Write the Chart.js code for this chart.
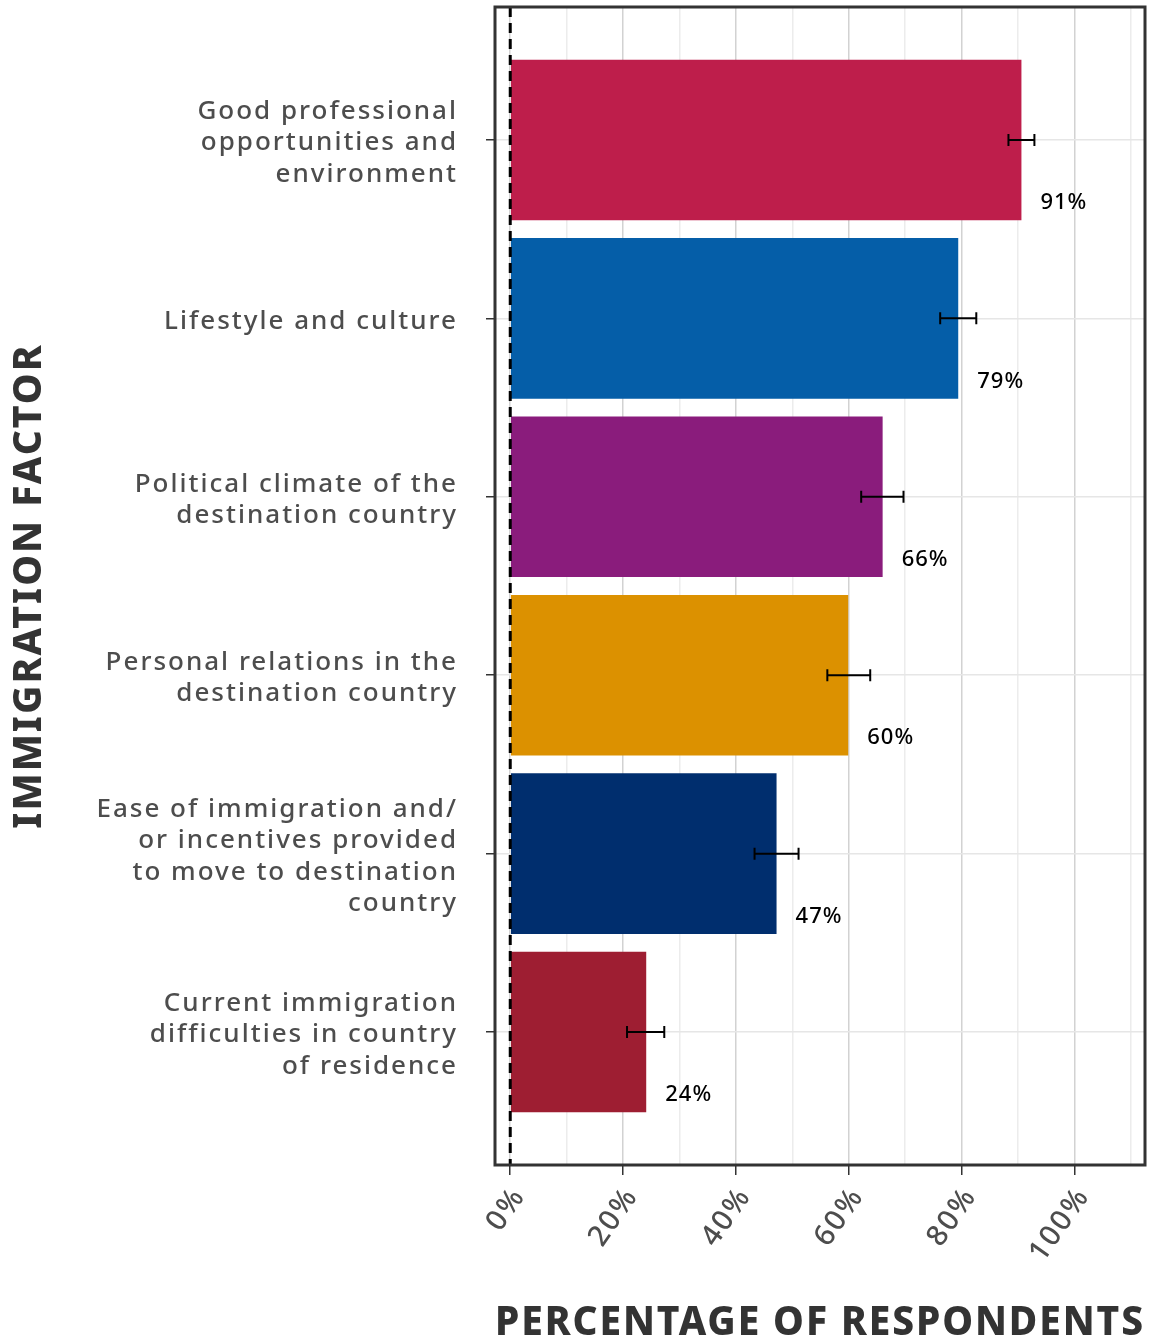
<!DOCTYPE html>
<html>
<head>
<meta charset="utf-8">
<script src="https://cdn.jsdelivr.net/npm/chart.js@4.4.0/dist/chart.umd.min.js"></script>
<style>
  html, body { margin: 0; padding: 0; background: #fff; }
  #wrap { width: 1157px; height: 1337px; }
</style>
</head>
<body>
<div id="wrap"><canvas id="chart"></canvas></div>
<script>
var factors = [
    ['Good professional', 'opportunities and', 'environment'],
    ['Lifestyle and culture'],
    ['Political climate of the', 'destination country'],
    ['Personal relations in the', 'destination country'],
    ['Ease of immigration and/', 'or incentives provided', 'to move to destination', 'country'],
    ['Current immigration', 'difficulties in country', 'of residence']
];
var percent = [90.6, 79.4, 66.0, 59.9, 47.2, 24.1];
var err_low = [88.3, 76.2, 62.2, 56.2, 43.3, 20.7];
var err_high = [92.9, 82.6, 69.7, 63.8, 51.1, 27.3];
var value_labels = ['91%', '79%', '66%', '60%', '47%', '24%'];
var bar_colors = ['#be1e4b', '#055ea8', '#8a1c7c', '#dc9100', '#002e6e', '#9e1e32'];

var FONT = "'Noto Sans', sans-serif";

// wider letter spacing to get closer to the original typeface
var spacing = {
    id: 'spacing',
    beforeDraw: function(chart) {
        chart.ctx.letterSpacing = '2px';
    }
};

// error bars, value labels, dashed zero line and the frame
var extras = {
    id: 'extras',
    afterDatasetsDraw: function(chart) {
        var ctx = chart.ctx;
        var xs = chart.scales.x, ys = chart.scales.y;
        var area = chart.chartArea;
        ctx.save();
        // dashed line at 0
        var x0 = xs.getPixelForValue(0);
        ctx.strokeStyle = '#000';
        ctx.lineWidth = 3;
        ctx.setLineDash([10, 6]);
        ctx.beginPath();
        ctx.moveTo(x0, area.top);
        ctx.lineTo(x0, area.bottom);
        ctx.stroke();
        ctx.setLineDash([]);

        ctx.lineWidth = 2;
        ctx.letterSpacing = '1px';
        ctx.font = '500 22px ' + FONT;
        ctx.textAlign = 'left';
        ctx.textBaseline = 'middle';
        ctx.fillStyle = '#000';
        for (var i = 0; i < percent.length; i++) {
            var yc = ys.getPixelForValue(i);
            var xl = xs.getPixelForValue(err_low[i]);
            var xh = xs.getPixelForValue(err_high[i]);
            ctx.beginPath();
            ctx.moveTo(xl, yc); ctx.lineTo(xh, yc);
            ctx.moveTo(xl, yc - 6); ctx.lineTo(xl, yc + 6);
            ctx.moveTo(xh, yc - 6); ctx.lineTo(xh, yc + 6);
            ctx.stroke();
            var xv = xs.getPixelForValue(percent[i]);
            ctx.fillText(value_labels[i], xv + 19, yc + 63);
        }
        // frame
        ctx.strokeStyle = '#333';
        ctx.lineWidth = 3;
        ctx.strokeRect(area.left, area.top, area.right - area.left, area.bottom - area.top);
        ctx.restore();
    }
};

var ctx = document.getElementById('chart');
var myChart = new Chart(ctx, {
    type: 'bar',
    data: {
        datasets: [{
            data: percent.map(function(v, i) { return {x: v, y: i}; }),
            backgroundColor: bar_colors,
            borderWidth: 0,
            barPercentage: 0.9,
            categoryPercentage: 1.0
        }]
    },
    plugins: [spacing, extras],
    options: {
        indexAxis: 'y',
        responsive: true,
        maintainAspectRatio: false,
        animation: false,
        layout: { padding: { top: 7, right: 12, left: 0, bottom: 0 } },
        plugins: {
            legend: { display: false },
            tooltip: { enabled: false }
        },
        scales: {
            x: {
                type: 'linear',
                min: -2.7,
                max: 112.5,
                afterBuildTicks: function(axis) {
                    var t = [];
                    for (var v = 0; v <= 110; v += 10) t.push({value: v});
                    axis.ticks = t;
                },
                afterFit: function(axis) {
                    axis.height = 172;
                    axis.paddingLeft = 0;
                    axis.paddingRight = 0;
                },
                grid: {
                    color: function(c) { return c.tick && c.tick.value % 20 === 0 ? '#d2d2d2' : '#ececec'; },
                    lineWidth: 1.5,
                    tickColor: function(c) { return c.tick && c.tick.value % 20 === 0 ? '#333' : 'rgba(0,0,0,0)'; },
                    tickLength: 10
                },
                border: { display: false },
                ticks: {
                    autoSkip: false,
                    minRotation: 55,
                    maxRotation: 55,
                    color: '#4d4d4d',
                    font: { family: FONT, size: 29, weight: '500' },
                    padding: 6,
                    labelOffset: 9,
                    callback: function(v) { return v % 20 === 0 ? v + '%' : ''; }
                },
                title: {
                    display: true,
                    text: 'PERCENTAGE OF RESPONDENTS',
                    color: '#333',
                    font: { family: FONT, size: 41, weight: '800' },
                    padding: { top: 0, bottom: -11 }
                }
            },
            y: {
                type: 'linear',
                reverse: true,
                offset: false,
                min: -0.745,
                max: 5.745,
                afterBuildTicks: function(axis) {
                    axis.ticks = factors.map(function(f, i) { return {value: i}; });
                },
                afterFit: function(axis) {
                    axis.width = 495;
                    axis.paddingTop = 0;
                    axis.paddingBottom = 0;
                },
                grid: {
                    offset: false,
                    color: '#e6e6e6',
                    lineWidth: 1.5,
                    tickColor: '#333',
                    tickLength: 9
                },
                border: { display: false },
                ticks: {
                    autoSkip: false,
                    color: '#4d4d4d',
                    font: { family: FONT, size: 26, weight: '500', lineHeight: 1.2 },
                    padding: 28,
                    labelOffset: 3,
                    callback: function(v) { return factors[v]; }
                },
                title: {
                    display: true,
                    text: 'IMMIGRATION FACTOR',
                    color: '#333',
                    font: { family: FONT, size: 39, weight: '800' },
                    padding: { top: 6, bottom: 0 }
                }
            }
        }
    }
});
</script>
</body>
</html>
